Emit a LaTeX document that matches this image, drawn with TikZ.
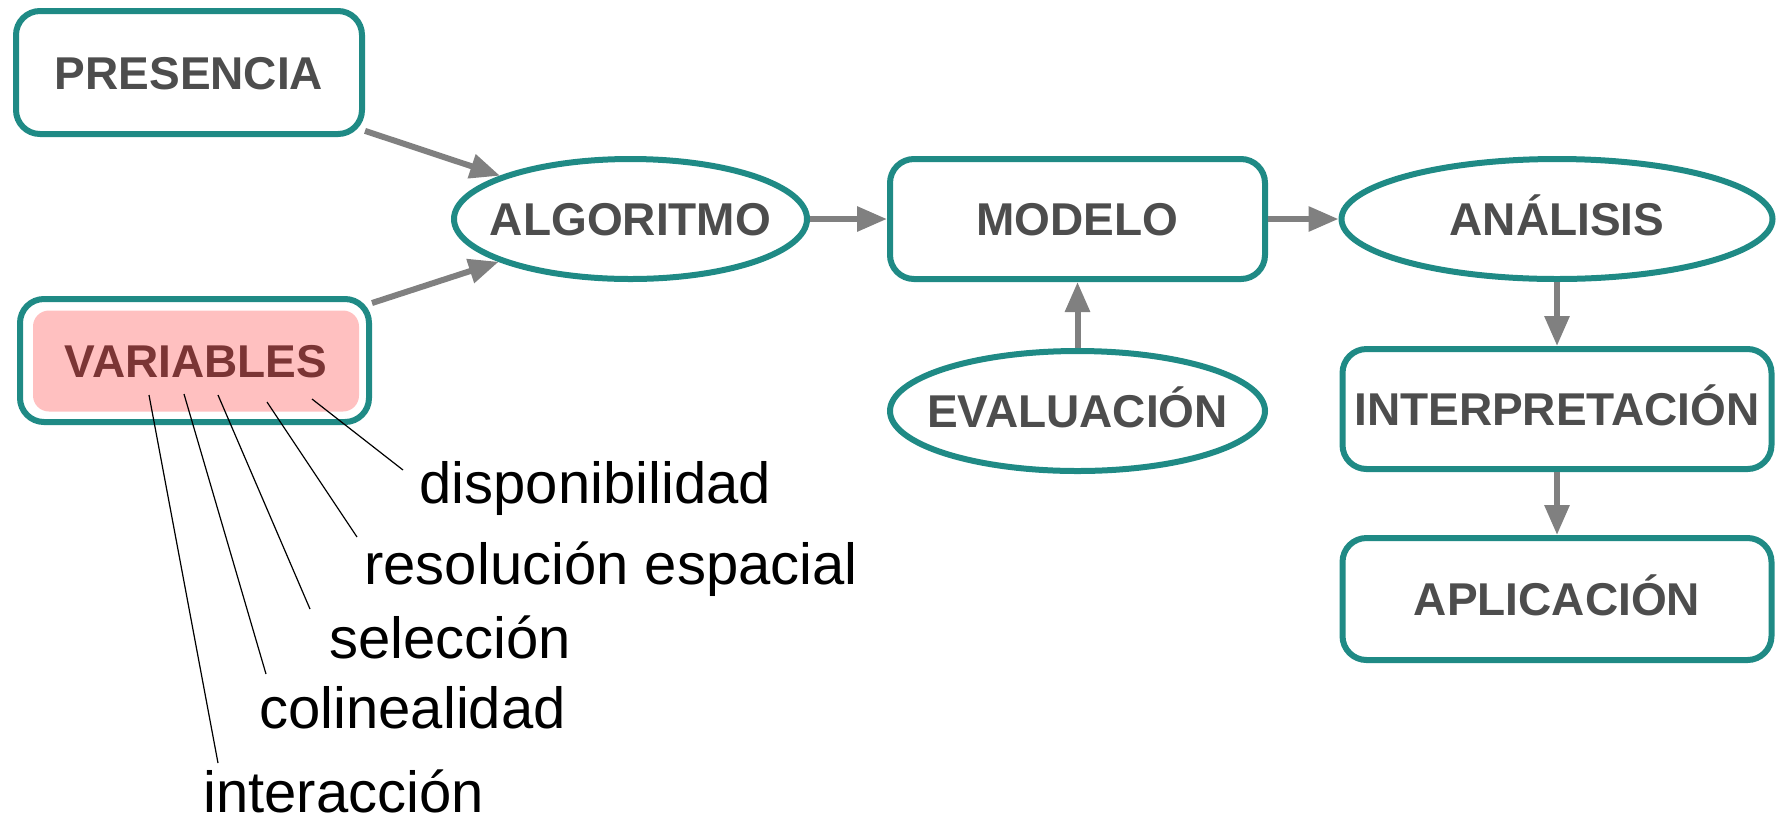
\documentclass[tikz,border=0pt]{standalone}
\usepackage{fontspec}
\setmainfont{Liberation Sans}
\usetikzlibrary{shapes.geometric, arrows.meta}
\definecolor{MapTeal}{HTML}{1F8A85}
\definecolor{MapText}{HTML}{4D4D4D}
\definecolor{MapArrow}{HTML}{808080}
\definecolor{MapPink}{HTML}{FFC0C0}
\definecolor{MapWine}{HTML}{7B3535}
\newcommand{\ovaltext}[1]{\makebox[0pt]{#1}}

\begin{document}
\begin{tikzpicture}[x=0.5pt, y=-0.5pt,
    boxtext/.style={text=MapText, font=\bfseries\fontsize{23}{23}\selectfont, inner sep=0pt, text height=16.5pt, text depth=0pt},
    stage/.style={boxtext, draw=MapTeal, line width=3pt, rounded corners=12pt, fill=white},
    oval/.style={boxtext, ellipse, draw=MapTeal, line width=3pt, fill=white},
    flow/.style={draw=MapArrow, line width=3pt, -{Triangle[length=15pt, width=12pt]}},
    tag/.style={anchor=base west, inner sep=0pt, font=\fontsize{29}{29}\selectfont},
    leader/.style={draw=black, line width=0.6pt}]
    \useasboundingbox (0,0) rectangle (1783,821);

    % Inputs
    \node[stage, minimum width=173pt, minimum height=61.5pt] (presencia) at (189,72.5) {PRESENCIA};
    \node[boxtext, fill=MapPink, text=MapWine, rounded corners=8pt, minimum width=163pt, minimum height=50.5pt] (variablesfill) at (196,361) {VARIABLES};
    \node[stage, fill=none, minimum width=174.5pt, minimum height=61.5pt] (variables) at (194.5,360.5) {};

    % Main row
    \node[oval, minimum width=176.5pt, minimum height=60pt] (algoritmo) at (630.5,219) {\ovaltext{ALGORITMO}};
    \node[stage, minimum width=187.5pt, minimum height=60pt] (modelo) at (1077.5,219) {MODELO};
    \node[oval, minimum width=215.5pt, minimum height=60pt] (analisis) at (1557,219) {\ovaltext{ANÁLISIS}};

    % Lower nodes
    \node[oval, minimum width=187.5pt, minimum height=60pt] (evaluacion) at (1077.5,411) {\ovaltext{EVALUACIÓN}};
    \node[stage, minimum width=214.5pt, minimum height=60pt] (interpretacion) at (1557,409) {INTERPRETACIÓN};
    \node[stage, minimum width=214.5pt, minimum height=61pt] (aplicacion) at (1557,599) {APLICACIÓN};

    % Arrows
    \draw[flow] (presencia) -- (algoritmo);
    \draw[flow] (variables) -- (algoritmo);
    \draw[flow] (algoritmo) -- (modelo);
    \draw[flow] (modelo) -- (analisis);
    \draw[flow] (evaluacion) -- (modelo);
    \draw[flow] (analisis) -- (interpretacion);
    \draw[flow] (interpretacion) -- (aplicacion);

    % Variable details
    \coordinate (vInter) at (149,395); \coordinate (tInter) at (218,763);
    \coordinate (vColin) at (184,394); \coordinate (tColin) at (266,674);
    \coordinate (vSelec) at (218,395); \coordinate (tSelec) at (310,609);
    \coordinate (vResol) at (267,402); \coordinate (tResol) at (357,537);
    \coordinate (vDispo) at (312,399); \coordinate (tDispo) at (403,470);
    \draw[leader] (vInter) -- (tInter);
    \draw[leader] (vColin) -- (tColin);
    \draw[leader] (vSelec) -- (tSelec);
    \draw[leader] (vResol) -- (tResol);
    \draw[leader] (vDispo) -- (tDispo);
    \node[tag] (disponibilidad) at (419,503) {disponibilidad};
    \node[tag] (resolucion) at (364,584) {resolución espacial};
    \node[tag] (seleccion) at (329,658) {selección};
    \node[tag] (colinealidad) at (259,728) {colinealidad};
    \node[tag] (interaccion) at (203,812) {interacción};
\end{tikzpicture}
\end{document}
